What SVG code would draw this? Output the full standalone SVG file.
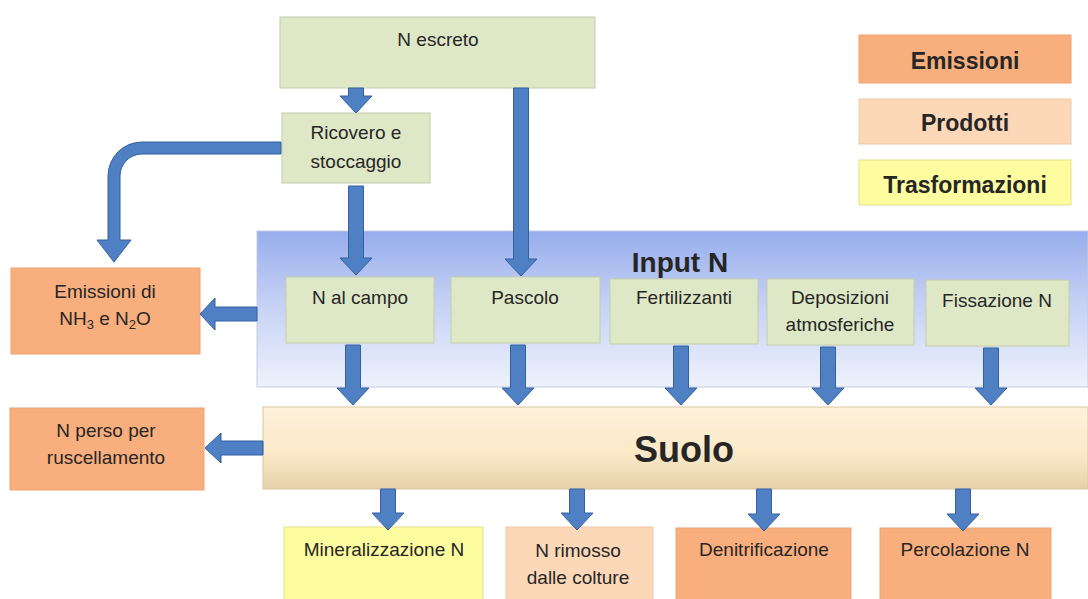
<svg xmlns="http://www.w3.org/2000/svg" width="1088" height="599" viewBox="0 0 1088 599">
<defs>
<linearGradient id="gInput" x1="0" y1="0" x2="0" y2="1">
<stop offset="0" stop-color="#97adec"/>
<stop offset="0.45" stop-color="#c4d0f4"/>
<stop offset="1" stop-color="#eff2fc"/>
</linearGradient>
<linearGradient id="gSuolo" x1="0" y1="0" x2="0" y2="1">
<stop offset="0" stop-color="#fdf2dc"/>
<stop offset="0.55" stop-color="#fbe9c8"/>
<stop offset="0.8" stop-color="#f1ddb9"/>
<stop offset="1" stop-color="#e6d0ab"/>
</linearGradient>
<style>
text{font-family:"Liberation Sans",Arial,sans-serif;fill:#262626;text-anchor:middle}
.t{font-size:19px}
.b{font-weight:bold}
.green{fill:#dfe8c6;stroke:#c4cea9;stroke-width:1}
.orange{fill:#f9ae7d;stroke:#eca474;stroke-width:1}
.peach{fill:#fcd7b8;stroke:#eec8a8;stroke-width:1}
.yellow{fill:#fdfc9e;stroke:#e4e28c;stroke-width:1}
.arrow{fill:#4f80c4;stroke:#33609f;stroke-width:1}
</style>
</defs>
<rect width="1088" height="599" fill="#ffffff"/>

<g id="input-panel">
<rect x="257" y="231" width="831" height="156" fill="url(#gInput)" stroke="#c3cbe2" stroke-width="1"/>
<text x="680" y="272" class="b" font-size="28">Input N</text>
</g>
<g id="suolo">
<rect x="263" y="407" width="825" height="82" fill="url(#gSuolo)" stroke="#d8c6a2" stroke-width="1"/>
<text x="684" y="462" class="b" font-size="36">Suolo</text>
</g>

<g id="n-escreto">
<rect x="280" y="17" width="315" height="71" class="green"/>
<text x="438" y="46" class="t">N escreto</text>
</g>
<g id="ricovero">
<rect x="282" y="113" width="148" height="70" class="green"/>
<text x="356" y="139" class="t">Ricovero e</text>
<text x="356" y="168" class="t">stoccaggio</text>
</g>
<g id="n-al-campo">
<rect x="286" y="277" width="148" height="66" class="green"/>
<text x="360" y="304" class="t">N al campo</text>
</g>
<g id="pascolo">
<rect x="451" y="277" width="149" height="66" class="green"/>
<text x="525" y="304" class="t">Pascolo</text>
</g>
<g id="fertilizzanti">
<rect x="610" y="279" width="148" height="65" class="green"/>
<text x="684" y="304" class="t">Fertilizzanti</text>
</g>
<g id="deposizioni">
<rect x="767" y="279" width="147" height="66" class="green"/>
<text x="840" y="304" class="t">Deposizioni</text>
<text x="840" y="331" class="t">atmosferiche</text>
</g>
<g id="fissazione">
<rect x="926" y="280" width="143" height="66" class="green"/>
<text x="997" y="307" class="t">Fissazione N</text>
</g>

<g id="emissioni-nh3">
<rect x="11" y="268" width="189" height="86" class="orange"/>
<text x="105" y="298" class="t">Emissioni di</text>
<text x="105" y="325" class="t">NH<tspan font-size="13" dy="4">3</tspan><tspan dy="-4"> e N</tspan><tspan font-size="13" dy="4">2</tspan><tspan dy="-4">O</tspan></text>
</g>
<g id="n-perso">
<rect x="10" y="408" width="194" height="82" class="orange"/>
<text x="106" y="437" class="t">N perso per</text>
<text x="106" y="464" class="t">ruscellamento</text>
</g>

<g id="mineralizzazione">
<rect x="284" y="527" width="199" height="80" class="yellow"/>
<text x="384" y="556" class="t">Mineralizzazione N</text>
</g>
<g id="n-rimosso">
<rect x="506" y="527" width="147" height="80" class="peach"/>
<text x="578" y="557" class="t">N rimosso</text>
<text x="578" y="584" class="t">dalle colture</text>
</g>
<g id="denitrificazione">
<rect x="676" y="528" width="175" height="80" class="orange"/>
<text x="764" y="556" class="t">Denitrificazione</text>
</g>
<g id="percolazione">
<rect x="880" y="528" width="171" height="80" class="orange"/>
<text x="965" y="556" class="t">Percolazione N</text>
</g>

<g id="legend-emissioni">
<rect x="859" y="35" width="212" height="48" class="orange"/>
<text x="965" y="69" class="b" font-size="23">Emissioni</text>
</g>
<g id="legend-prodotti">
<rect x="859" y="99" width="212" height="45" class="peach"/>
<text x="965" y="131" class="b" font-size="23">Prodotti</text>
</g>
<g id="legend-trasformazioni">
<rect x="859" y="160" width="212" height="45" class="yellow"/>
<text x="965" y="193" class="b" font-size="23">Trasformazioni</text>
</g>

<g id="connectors">
<polygon class="arrow" points="348.5,88 363.5,88 363.5,96 372,96 356,113 340,96 348.5,96"/>
<path class="arrow" d="M281,142 L142,142 A34,34 0 0 0 108,176 L108,240 L97,240 L114,262 L131,240 L120,240 L120,176 A22,22 0 0 1 142,154 L281,154 Z"/>
<polygon class="arrow" points="348.5,186 363.5,186 363.5,258 372,258 356,275 340,258 348.5,258"/>
<polygon class="arrow" points="513.5,88 528.5,88 528.5,259 537,259 521,276 505,259 513.5,259"/>
<polygon class="arrow" points="257,307 215,307 215,298 200,314 215,330 215,321 257,321"/>
<polygon class="arrow" points="345.5,345 360.5,345 360.5,388 369,388 353,405 337,388 345.5,388"/>
<polygon class="arrow" points="510.5,345 525.5,345 525.5,388 534,388 518,405 502,388 510.5,388"/>
<polygon class="arrow" points="673.5,346 688.5,346 688.5,388 697,388 681,405 665,388 673.5,388"/>
<polygon class="arrow" points="820.5,347 835.5,347 835.5,388 844,388 828,405 812,388 820.5,388"/>
<polygon class="arrow" points="983.5,348 998.5,348 998.5,388 1007,388 991,405 975,388 983.5,388"/>
<polygon class="arrow" points="263,441 221,441 221,433 205,448 221,463 221,455 263,455"/>
<polygon class="arrow" points="380.5,489 395.5,489 395.5,513 404,513 388,530 372,513 380.5,513"/>
<polygon class="arrow" points="569.5,489 584.5,489 584.5,513 593,513 577,530 561,513 569.5,513"/>
<polygon class="arrow" points="756.5,489 771.5,489 771.5,514 780,514 764,531 748,514 756.5,514"/>
<polygon class="arrow" points="955.5,489 970.5,489 970.5,514 979,514 963,531 947,514 955.5,514"/>
</g>
</svg>
